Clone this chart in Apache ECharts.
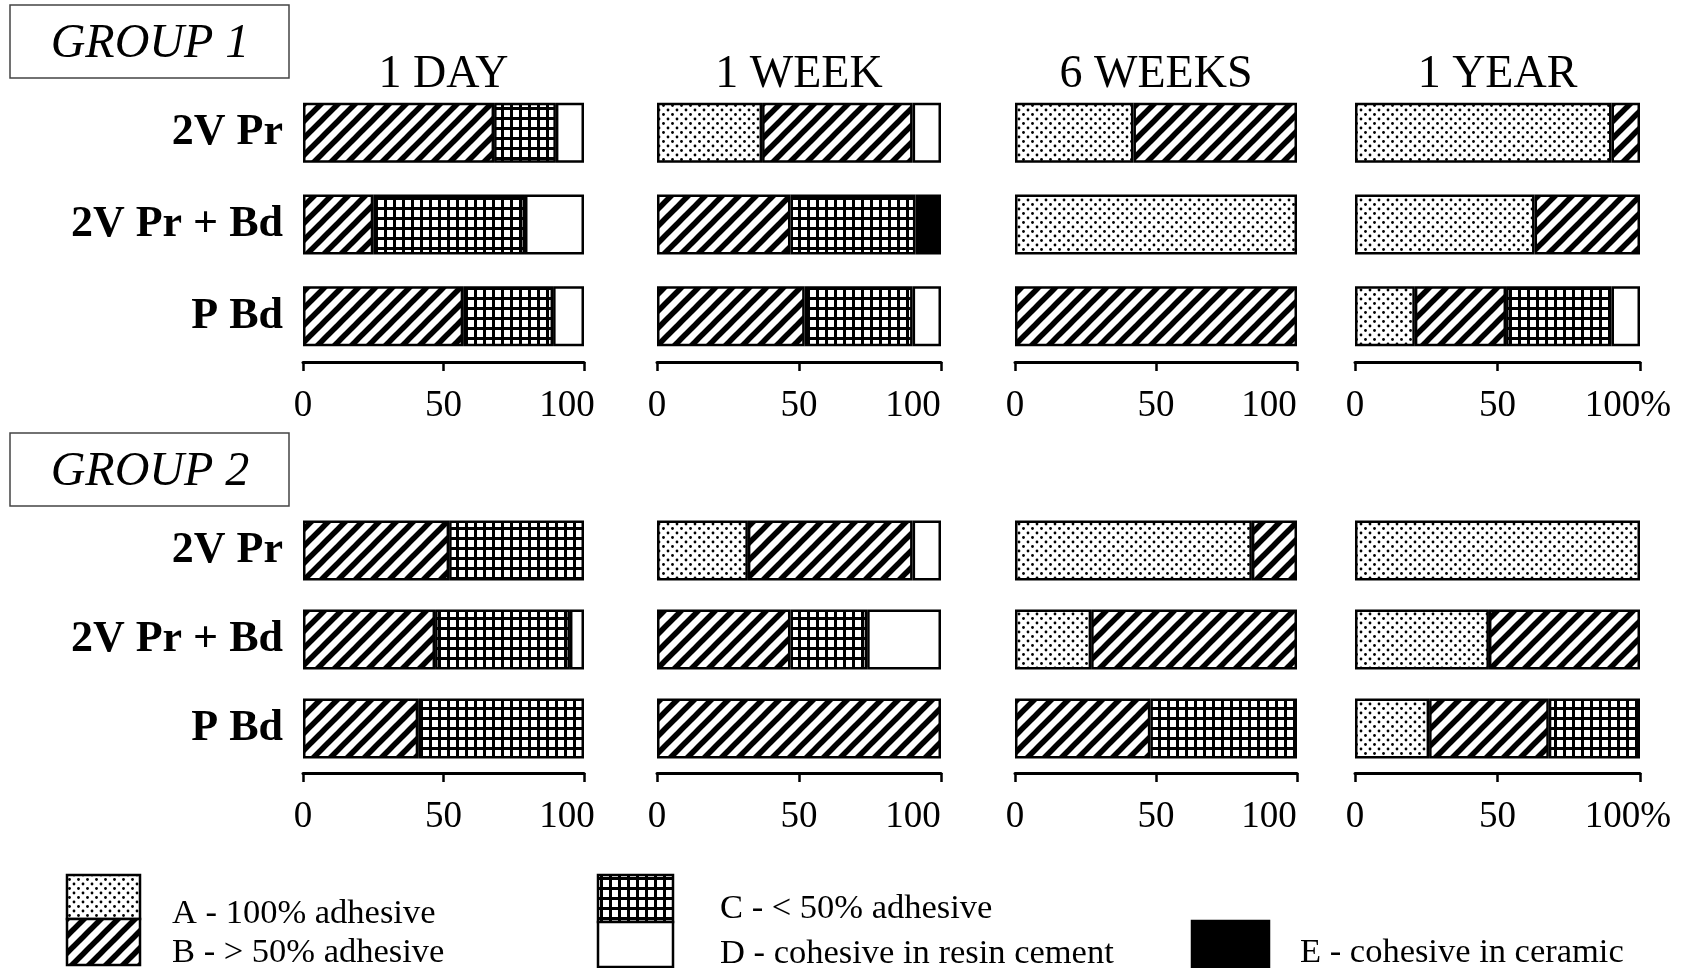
<!DOCTYPE html>
<html>
<head>
<meta charset="utf-8">
<script src="https://cdn.jsdelivr.net/npm/echarts@6/dist/echarts.min.js"></script>
<style>
html, body { margin: 0; padding: 0; background: #fff; }
#chart { width: 1689px; height: 968px; }
</style>
</head>
<body>
<div id="chart"></div>
<script>
var categories = ['2V Pr', '2V Pr + Bd', 'P Bd'];
var periods = ['1 DAY', '1 WEEK', '6 WEEKS', '1 YEAR'];
var tickValues = [0, 50, 100];

// % of specimens per failure mode, one row per period: [2V Pr, 2V Pr + Bd, P Bd]
var group1A = [[0, 0, 0], [37, 0, 0], [42, 100, 0], [90, 63, 21]];
var group1B = [[68, 25, 57], [53, 47, 52], [58, 0, 100], [10, 37, 32]];
var group1C = [[22, 54, 32], [0, 44, 38], [0, 0, 0], [0, 0, 37]];
var group1D = [[10, 21, 11], [10, 0, 10], [0, 0, 0], [0, 0, 10]];
var group1E = [[0, 0, 0], [0, 9, 0], [0, 0, 0], [0, 0, 0]];

var group2A = [[0, 0, 0], [32, 0, 0], [84, 27, 0], [100, 47, 26]];
var group2B = [[52, 47, 41], [58, 47, 100], [16, 73, 48], [0, 53, 42]];
var group2C = [[48, 48, 59], [0, 27, 0], [0, 0, 52], [0, 0, 32]];
var group2D = [[0, 5, 0], [10, 26, 0], [0, 0, 0], [0, 0, 0]];
var group2E = [[0, 0, 0], [0, 0, 0], [0, 0, 0], [0, 0, 0]];

var serif = '"Liberation Serif", "DejaVu Serif", serif';

function makePattern(w, h, draw) {
  var c = document.createElement('canvas');
  c.width = w;
  c.height = h;
  var ctx = c.getContext('2d');
  ctx.fillStyle = '#fff';
  ctx.fillRect(0, 0, w, h);
  ctx.fillStyle = '#000';
  ctx.strokeStyle = '#000';
  draw(ctx, w, h);
  return { image: c, repeat: 'repeat' };
}

var dots = makePattern(9, 9, function (ctx) {
  [[2, 2], [6.5, 6.5]].forEach(function (p) {
    ctx.beginPath();
    ctx.arc(p[0], p[1], 1.4, 0, Math.PI * 2);
    ctx.fill();
  });
});

var hatch = makePattern(17, 17, function (ctx, w, h) {
  ctx.lineWidth = 5.5;
  ctx.lineCap = 'square';
  [-w, 0, w].forEach(function (o) {
    ctx.beginPath();
    ctx.moveTo(o, h);
    ctx.lineTo(o + w, 0);
    ctx.stroke();
  });
});

var grid = makePattern(9, 10, function (ctx, w, h) {
  ctx.fillRect(0, 0, w, h);
  ctx.fillStyle = '#fff';
  ctx.fillRect(0, 0, 6, 7);
});

var modes = [
  { name: 'A', fill: dots, data: [group1A, group2A] },
  { name: 'B', fill: hatch, data: [group1B, group2B] },
  { name: 'C', fill: grid, data: [group1C, group2C] },
  { name: 'D', fill: '#fff', data: [group1D, group2D] },
  { name: 'E', fill: '#000', data: [group1E, group2E] }
];

var colLeft = [303, 657, 1015, 1355];
var colWidth = [281, 284, 282, 285];
var rowTop = [87, 506];
var rowHeight = [275, 267];
// how far the "100" label sits left of its tick in each column
var endShift = [17, 28, 28, 12];

var grids = [], xAxes = [], yAxes = [], series = [];

for (var g = 0; g < 2; g++) {
  for (var p = 0; p < 4; p++) {
    var idx = g * 4 + p;
    grids.push({ left: colLeft[p], width: colWidth[p], top: rowTop[g], height: rowHeight[g] });
    xAxes.push({
      type: 'value', gridIndex: idx, min: 0, max: 100, interval: 50,
      splitLine: { show: false },
      axisLine: { show: true, lineStyle: { color: '#000', width: 3 } },
      axisTick: { show: true, length: 9, lineStyle: { color: '#000', width: 2.5 } },
      axisLabel: {
        fontFamily: serif, fontSize: 37, color: '#000', margin: 26,
        formatter: (function (last) {
          return function (v) {
            if (v === tickValues[2]) return '{end|' + v + (last ? '%' : '') + '}';
            return String(v);
          };
        })(p === 3),
        rich: {
          end: { fontFamily: serif, fontSize: 37, color: '#000', padding: [0, endShift[p] * 2, 0, 0] }
        }
      }
    });
    yAxes.push({
      type: 'category', gridIndex: idx, data: categories, inverse: true,
      axisLine: { show: false }, axisTick: { show: false },
      axisLabel: {
        show: p === 0, fontFamily: serif, fontWeight: 'bold', fontSize: 44,
        color: '#000', margin: 20
      }
    });
    modes.forEach(function (m) {
      series.push({
        type: 'bar', name: m.name, xAxisIndex: idx, yAxisIndex: idx,
        stack: 'panel' + idx, barWidth: 60, silent: true,
        itemStyle: { color: m.fill, borderColor: '#000', borderWidth: 2.5 },
        data: m.data[g][p].map(function (v) { return v === 0 ? '-' : v; })
      });
    });
  }
}

var graphics = [];

// group boxes
[['GROUP 1', 5], ['GROUP 2', 433]].forEach(function (b) {
  graphics.push({
    type: 'rect', shape: { x: 10, y: b[1], width: 279, height: 73 },
    style: { fill: 'none', stroke: '#444', lineWidth: 1.5 }
  });
  graphics.push({
    type: 'text', x: 150, y: b[1] + 39,
    style: {
      text: b[0], font: 'italic 48px ' + serif, fill: '#000',
      textAlign: 'center', textVerticalAlign: 'middle'
    }
  });
});

// period headings
periods.forEach(function (t, i) {
  graphics.push({
    type: 'text', x: colLeft[i] + colWidth[i] / 2, y: 75,
    style: {
      text: t, font: '46px ' + serif, fill: '#000',
      textAlign: 'center', textVerticalAlign: 'middle'
    }
  });
});

// legend
var legendItems = [
  { fill: dots, box: [67, 875, 73, 44], text: 'A - 100% adhesive', tx: 172, ty: 914 },
  { fill: hatch, box: [67, 919, 73, 46], text: 'B - > 50% adhesive', tx: 172, ty: 953 },
  { fill: grid, box: [598, 875, 75, 47], text: 'C - < 50% adhesive', tx: 720, ty: 909 },
  { fill: '#fff', box: [598, 922, 75, 45], text: 'D - cohesive in resin cement', tx: 720, ty: 954 },
  { fill: '#000', box: [1192, 921, 77, 46], text: 'E - cohesive in ceramic', tx: 1300, ty: 953 }
];
legendItems.forEach(function (it) {
  graphics.push({
    type: 'rect',
    shape: { x: it.box[0], y: it.box[1], width: it.box[2], height: it.box[3] },
    style: { fill: it.fill, stroke: '#000', lineWidth: 2.5 }
  });
  graphics.push({
    type: 'text', x: it.tx, y: it.ty,
    style: {
      text: it.text, font: '34.5px ' + serif, fill: '#000',
      textAlign: 'left', textVerticalAlign: 'middle'
    }
  });
});

var chart = echarts.init(document.getElementById('chart'), null, { renderer: 'canvas' });
chart.setOption({
  backgroundColor: '#fff',
  animation: false,
  grid: grids,
  xAxis: xAxes,
  yAxis: yAxes,
  series: series,
  graphic: graphics
});
</script>
</body>
</html>
